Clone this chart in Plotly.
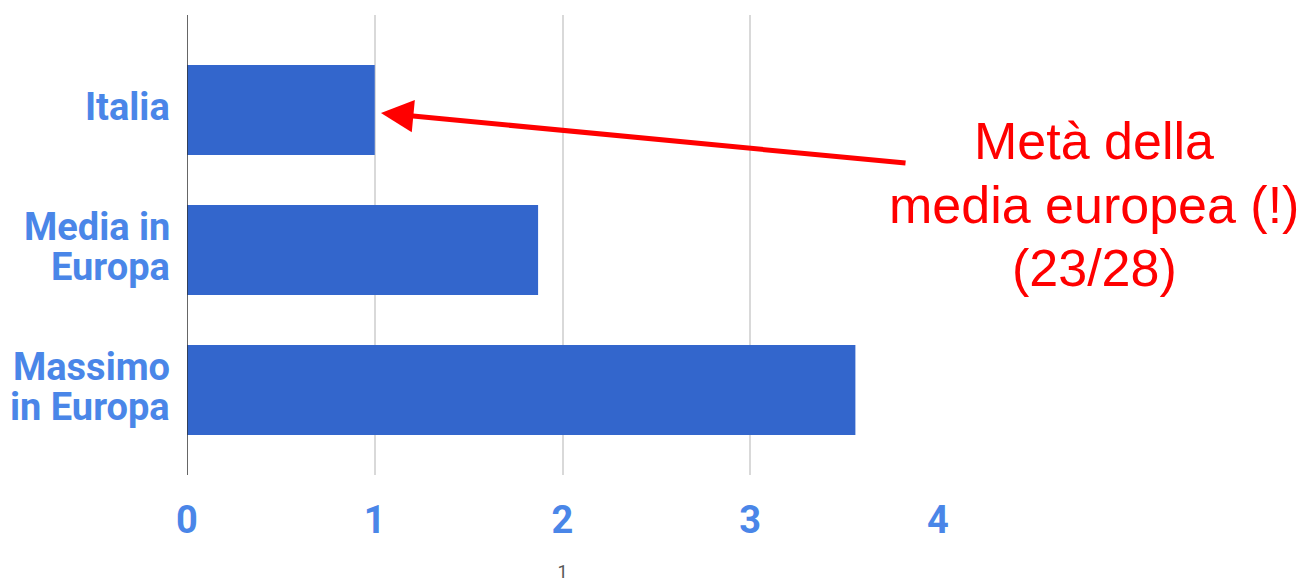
import plotly.graph_objects as go

categories = ["Italia", "Media in<br>Europa", "Massimo<br>in Europa"]
values = [1.0, 1.87, 3.56]
tick_vals = [0, 1, 2, 3, 4]
tick_text = ["0", "1", "2", "3", "4"]
note_lines = ["Metà della", "media europea (!)", "(23/28)"]
axis_title = "1"

LABEL_BLUE = "#4a86e8"

fig = go.Figure(go.Bar(
    y=categories, x=values, orientation="h",
    marker=dict(color="#3366cc", line=dict(width=0)),
    width=0.643,
))

# page body has an 8px offset; margins compensate for it
fig.update_layout(
    width=1308, height=584,
    margin=dict(l=179, r=378, t=7, b=117, autoexpand=False),
    plot_bgcolor="white", paper_bgcolor="white",
    showlegend=False,
    font=dict(family="Roboto"),
)
fig.update_xaxes(
    range=[0, 4], tickvals=tick_vals, ticktext=tick_text,
    showgrid=True, gridcolor="#d9d9d9", gridwidth=1.5,
    zeroline=False, showline=False,
    tickfont=dict(family="Roboto", size=38, color=LABEL_BLUE, weight="bold"),
    ticks="outside", ticklen=11, tickcolor="rgba(0,0,0,0)",
    title=dict(text=axis_title, font=dict(family="Roboto", size=18, color="#555555"), standoff=24),
)
fig.update_yaxes(
    type="category", range=[2.607, -0.679],
    showgrid=False, zeroline=False, showline=False,
    showticklabels=False,
)
# dark baseline at zero
fig.add_shape(type="line", xref="x", yref="paper", x0=0, x1=0, y0=0, y1=1,
              line=dict(color="#333333", width=1.5))

# category labels (tight line spacing), one annotation per line
for cat in categories:
    lines = cat.split("<br>")
    n = len(lines)
    for i, ln in enumerate(lines):
        fig.add_annotation(
            x=0, y=cat, xref="x", yref="y", text=ln, showarrow=False,
            xanchor="right", yanchor="middle", xshift=-15,
            yshift=3 + (n - 1) * 20 - i * 40,
            font=dict(family="Roboto", size=38, color=LABEL_BLUE, weight="bold"),
        )

# arrow
fig.add_annotation(
    x=1.033, y=0.021, xref="x", yref="y",
    ax=3.835, ay=0.38, axref="x", ayref="y",
    text="", showarrow=True, arrowhead=2, arrowsize=1.3, arrowwidth=5,
    arrowcolor="#ff0000", standoff=0,
)

# note text, one annotation per line
plot_l, plot_r, plot_t, plot_b = 187, 938, 15, 475
for i, ln in enumerate(note_lines):
    yc = 141 + i * 63.5
    fig.add_annotation(
        x=(1094 - plot_l) / (plot_r - plot_l), y=1 - (yc - plot_t) / (plot_b - plot_t),
        xref="paper", yref="paper", text=ln, showarrow=False,
        xanchor="center", yanchor="middle",
        font=dict(family="Liberation Sans", size=52, color="#ff0000"),
    )

fig.write_html("out.html")
